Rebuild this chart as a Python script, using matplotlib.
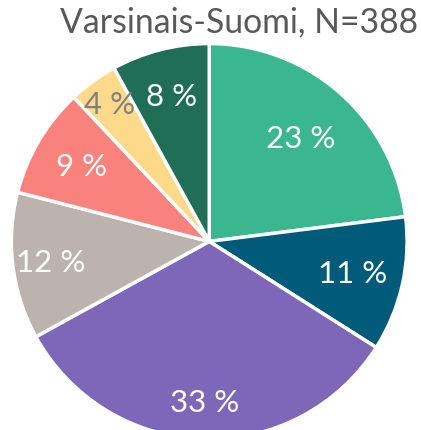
import numpy as np
import matplotlib.pyplot as plt

title = "Varsinais-Suomi, N=388"
values = [23, 11, 33, 12, 9, 4, 8]
colors = ["#3BB78F", "#005B7B", "#7E67B8", "#BDB3AE", "#FA827C", "#FDD98A", "#1F6E55"]
text_colors = ["white", "white", "white", "white", "white", "#808080", "white"]
# label distance from centre (fraction of radius), like Excel's best fit
label_dist = [0.70, 0.74, 0.81, 0.81, 0.75, 0.86, 0.76]

plt.rcParams["font.family"] = ["Lato", "DejaVu Sans"]

fig = plt.figure(figsize=(4.21, 4.31), dpi=100)
ax = fig.add_axes([0.027, -0.022, 0.94, 0.919])

wedges, texts, autotexts = ax.pie(
    values,
    colors=colors,
    startangle=90,
    counterclock=False,
    autopct=lambda p: f"{p:.0f} %",
    wedgeprops=dict(edgecolor="white", linewidth=2.5),
    textprops=dict(fontsize=22.5),
)
for w, t, c, d in zip(wedges, autotexts, text_colors, label_dist):
    ang = np.deg2rad((w.theta1 + w.theta2) / 2)
    t.set_position((d * np.cos(ang), d * np.sin(ang)))
    t.set_color(c)
ax.set_aspect("equal")
ax.set_xlim(-1, 1)
ax.set_ylim(-1, 1)

fig.text(0.568, 0.948, title, ha="center", va="center", fontsize=24.3, color="#595959")

fig.savefig("out.png", dpi=100)
